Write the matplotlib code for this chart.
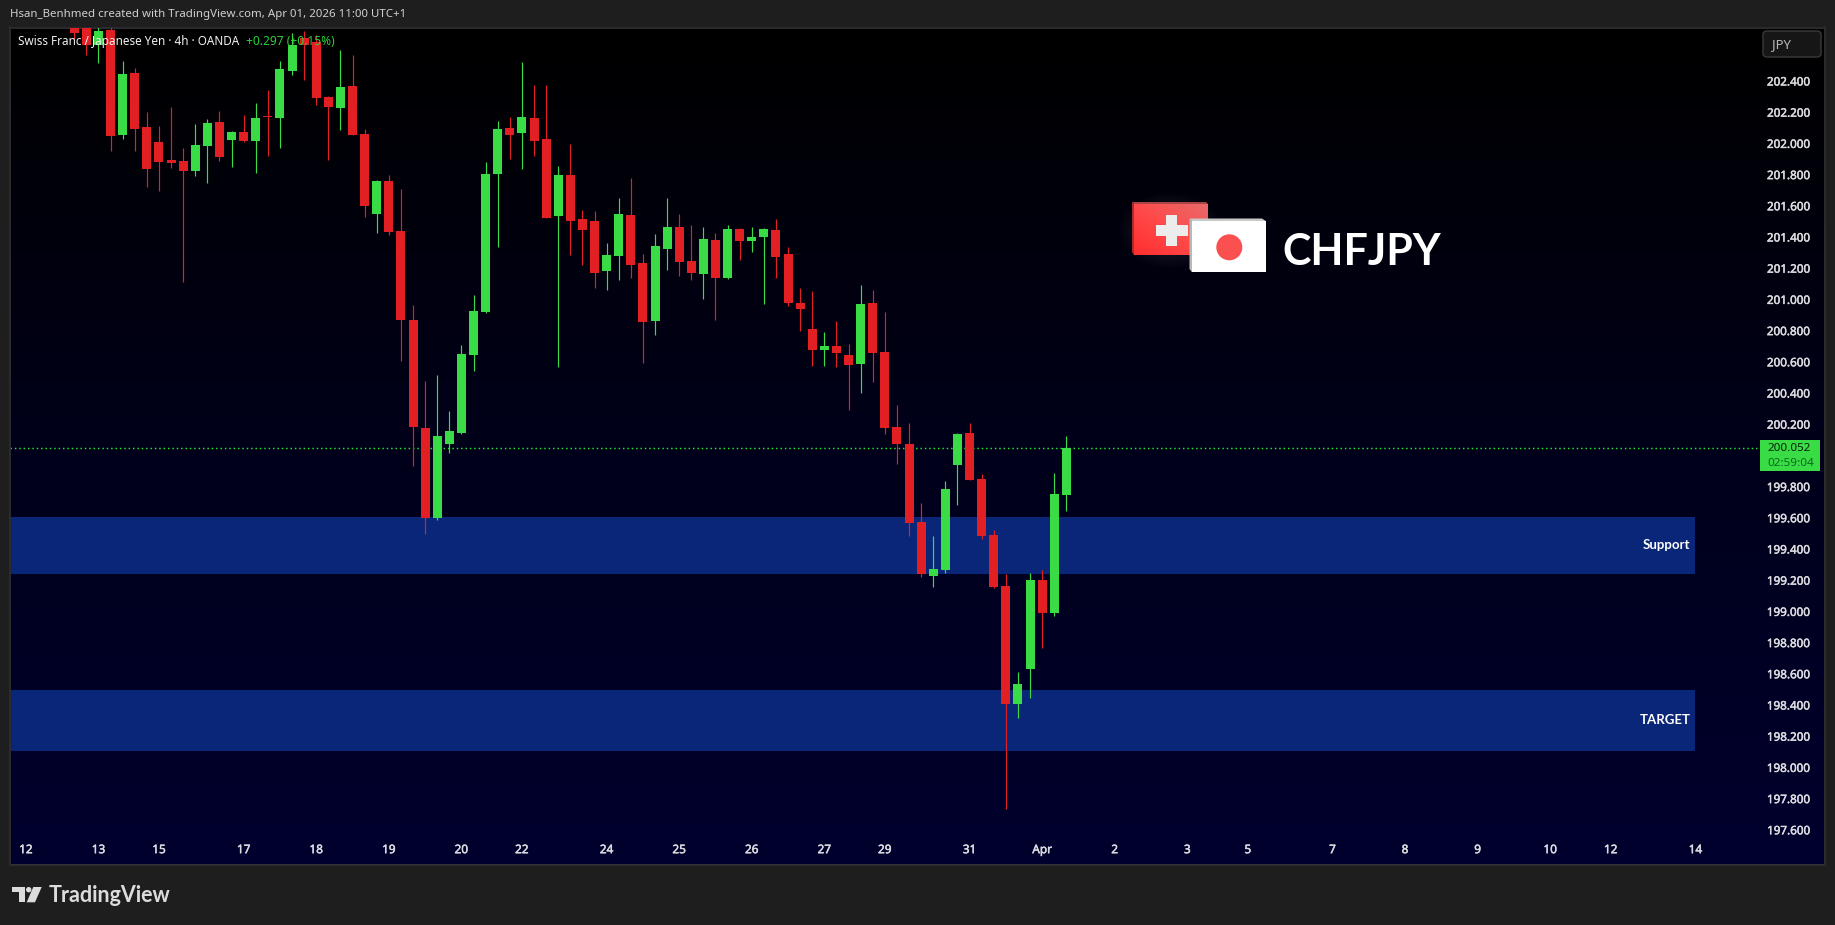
import numpy as np
import matplotlib
matplotlib.use('Agg')
import matplotlib.pyplot as plt
import matplotlib.patheffects as pe
from matplotlib.colors import LinearSegmentedColormap
from matplotlib.patches import Circle, FancyBboxPatch, Polygon, Rectangle

# candle values, 4h bars
opens = [202.85, 202.82, 202.634, 202.730, 202.059, 202.454, 202.108, 202.012, 201.896, 201.890,
         201.826, 201.986, 202.140, 202.025, 202.076, 202.018, 202.178, 202.166, 202.467, 202.678,
         202.655, 202.300, 202.230, 202.371, 202.063, 201.550, 201.762, 201.441, 200.871, 200.178,
         199.602, 200.076, 200.146, 200.646, 200.922, 201.807, 202.101, 202.069, 202.166, 202.031,
         201.537, 201.800, 201.518, 201.505, 201.185, 201.281, 201.545, 201.237, 200.865, 201.327,
         201.468, 201.250, 201.166, 201.384, 201.141, 201.455, 201.378, 201.404, 201.448, 201.295,
         200.981, 200.814, 200.679, 200.705, 200.647, 200.589, 200.981, 200.666, 200.186, 200.076,
         199.576, 199.230, 199.268, 199.941, 200.146, 199.852, 199.493, 199.166, 198.409, 198.634,
         199.204, 198.993, 199.749]
highs = [202.95, 202.95, 202.78, 202.76, 202.531, 202.484, 202.204, 202.114, 202.236, 201.973,
         202.127, 202.159, 202.210, 202.082, 202.185, 202.262, 202.345, 202.531, 202.708, 202.723,
         202.698, 202.307, 202.601, 202.569, 202.095, 201.768, 201.800, 201.710, 200.967, 200.480,
         200.518, 200.287, 200.711, 201.031, 201.884, 202.146, 202.172, 202.525, 202.377, 202.377,
         201.858, 201.999, 201.576, 201.569, 201.364, 201.653, 201.780, 201.295, 201.423, 201.654,
         201.551, 201.481, 201.468, 201.429, 201.481, 201.461, 201.468, 201.461, 201.519, 201.339,
         201.077, 201.057, 200.795, 200.865, 200.718, 201.096, 201.064, 200.923, 200.327, 200.211,
         199.698, 199.486, 199.839, 200.146, 200.211, 199.884, 199.525, 199.243, 198.614, 199.249,
         199.268, 199.890, 200.127]
lows = [202.670, 202.569, 202.520, 201.956, 202.031, 201.954, 201.723, 201.698, 201.845, 201.114,
        201.794, 201.749, 201.890, 201.851, 202.012, 201.813, 201.922, 201.973, 202.441, 202.409,
        202.249, 201.896, 202.089, 202.057, 201.531, 201.428, 201.416, 200.608, 199.935, 199.499,
        199.589, 200.018, 200.140, 200.544, 200.916, 201.339, 201.903, 201.839, 201.922, 201.525,
        200.569, 201.287, 201.223, 201.076, 201.063, 201.127, 201.141, 200.596, 200.775, 201.192,
        201.154, 201.128, 201.006, 200.872, 201.134, 201.256, 201.307, 200.974, 201.141, 200.961,
        200.801, 200.577, 200.577, 200.570, 200.295, 200.404, 200.474, 200.141, 199.948, 199.486,
        199.223, 199.159, 199.249, 199.685, 199.845, 199.467, 199.153, 197.736, 198.320, 198.448,
        198.768, 198.973, 199.646]
closes = [202.710, 202.634, 202.723, 202.052, 202.448, 202.095, 201.839, 201.884, 201.877, 201.826,
          201.993, 202.134, 201.916, 202.076, 202.018, 202.166, 202.172, 202.480, 202.634, 202.634,
          202.294, 202.236, 202.364, 202.057, 201.601, 201.762, 201.435, 200.871, 200.185, 199.602,
          200.127, 200.159, 200.653, 200.928, 201.807, 202.095, 202.057, 202.172, 202.018, 201.525,
          201.800, 201.505, 201.448, 201.172, 201.287, 201.550, 201.224, 200.859, 201.346, 201.468,
          201.243, 201.173, 201.391, 201.141, 201.455, 201.378, 201.404, 201.455, 201.275, 200.981,
          200.942, 200.679, 200.705, 200.660, 200.583, 200.974, 200.660, 200.179, 200.077, 199.570,
          199.243, 199.275, 199.787, 200.140, 199.845, 199.486, 199.159, 198.409, 198.537, 199.204,
          198.993, 199.755, 200.050]

# axis ticks, 200.000 sits under the price tag so it has no label
date_ticks = [-4, 2, 7, 14, 20, 26, 32, 37, 44, 50, 56, 62, 67, 74, 80, 86, 92, 97, 104, 110, 116, 122, 127, 134]
date_labels = ['12', '13', '15', '17', '18', '19', '20', '22', '24', '25', '26', '27', '29', '31',
               'Apr', '2', '3', '5', '7', '8', '9', '10', '12', '14']
price_ticks = [197.6, 197.8, 198.0, 198.2, 198.4, 198.6, 198.8, 199.0, 199.2, 199.4, 199.6, 199.8,
               200.2, 200.4, 200.6, 200.8, 201.0, 201.2, 201.4, 201.6, 201.8, 202.0, 202.2, 202.4]

# zones and last price
zone_names = ['Support', 'TARGET']
zone_lows = [199.243, 198.107]
zone_highs = [199.608, 198.499]
zone_end = 134
last_price = 200.052

W, H = 1835, 925
GREEN = '#39dc45'
RED = '#e22024'

plt.rcParams['font.family'] = 'Noto Sans'

fig = plt.figure(figsize=(W / 100, H / 100), dpi=100, facecolor='#1e1e1e')

# price pane, placed on the pixel
left, right, top, bottom = 10, 1825, 27.5, 864.5
ax = fig.add_axes([left / W, 1 - bottom / H, (right - left) / W, (bottom - top) / H])
xlim = ((left - 74.3) / 12.098, (right - 74.3) / 12.098)
ylim = (202.4 - (bottom - 81.5) / 156, 202.4 + (81.5 - top) / 156)

# background fades from black to navy
fade = LinearSegmentedColormap.from_list('fade', ['#000000', '#00001a', '#00002e'])
ax.imshow(np.linspace(0, 1, 256).reshape(-1, 1), cmap=fade, aspect='auto',
          extent=(0, 1, 0, 1), transform=ax.transAxes, zorder=0)

# zones
for low, high in zip(zone_lows, zone_highs):
    ax.fill_between([xlim[0], zone_end], low, high, color='#0a2678', lw=0, zorder=1)
for name, low, high in zip(zone_names, zone_lows, zone_highs):
    ax.annotate(name, (zone_end, (low + high) / 2), xytext=(-3.5, 0.5), textcoords='offset points',
                ha='right', va='center', color='white', fontsize=9.5, fontfamily='Lato',
                fontweight='bold', zorder=5)

# last price line
ax.plot([xlim[0], (1757 - 74.3) / 12.098], [last_price, last_price], color='#1cf02e', lw=1.05,
        ls=(0, (1, 2)), zorder=2)

# candles
idx = np.arange(len(opens))
colors = [GREEN if c >= o else RED for o, c in zip(opens, closes)]
ax.vlines(idx, lows, highs, colors=colors, lw=0.85, zorder=3)
ax.bar(idx, np.abs(np.array(closes) - np.array(opens)), bottom=np.minimum(opens, closes),
       width=0.744, color=colors, lw=0, zorder=4)

ax.set_xlim(xlim)
ax.set_ylim(ylim)
for spine in ax.spines.values():
    spine.set_color('#2c2c30')
    spine.set_linewidth(1.4)

ax.set_xticks(date_ticks, date_labels)
ax.set_yticks(price_ticks, ['%.3f' % p for p in price_ticks])
ax.yaxis.tick_right()
ax.tick_params(axis='x', length=0, pad=-6, colors='#dcdce0', labelsize=8.5)
ax.tick_params(axis='y', length=0, pad=-10.5, colors='#dcdce0', labelsize=8.4)
thicker = [pe.withStroke(linewidth=0.35, foreground='#dcdce0')]
for label in ax.get_yticklabels():
    label.set_ha('right')
    label.set_path_effects(thicker)
for label in ax.get_xticklabels():
    label.set_va('bottom')
    label.set_path_effects(thicker)

# overlay in pixel coordinates for everything round the chart
over = fig.add_axes([0, 0, 1, 1], zorder=5)
over.set_xlim(0, W)
over.set_ylim(H, 0)
over.set_axis_off()

over.text(9.5, 14.7, 'Hsan_Benhmed created with TradingView.com, Apr 01, 2026 11:00 UTC+1',
          color='#cfcfcf', fontsize=8.25, va='center')
over.text(17.8, 41.7, 'Swiss Franc / Japanese Yen · 4h · OANDA', color='#f0f0f0', fontsize=8.45, va='center')
over.text(245.5, 41.7, '+0.297 (+0.15%)', color='#2ad038', fontsize=8.6, va='center')

# currency button
over.add_patch(FancyBboxPatch((1763, 31), 58, 26, boxstyle='round,pad=0,rounding_size=4', fc='#161616',
                              ec='#3a3a3a', lw=1, zorder=3))
over.text(1772, 44.5, 'JPY', color='#b8b8b8', fontsize=9.5, va='center', zorder=4)

# last price tag
over.add_patch(Rectangle((1760, 440), 60, 31, fc=GREEN, lw=0, zorder=3))
over.text(1789, 448.5, '%.3f' % last_price, color='#06200a', fontsize=8.4, ha='center', va='center', zorder=4)
over.text(1791, 463, '02:59:04', color='#0d6a1c', fontsize=8.4, ha='center', va='center', zorder=4)

# flag logo, soft glow then bevelled flags
glow = np.zeros((80, 110, 4))
yy, xx = np.mgrid[0:80, 0:110]
glow[..., :3] = 1
glow[..., 3] = 0.16 * np.clip(1 - np.hypot((xx - 55) / 55, (yy - 40) / 40), 0, 1)
over.imshow(glow, extent=(1115, 1225, 270, 190), aspect='auto', zorder=2)
shade = LinearSegmentedColormap.from_list('swiss', ['#ff2e2e', '#ff4a4a', '#e86a6a'])
grad = (np.linspace(0, 1, 60).reshape(1, -1) + np.linspace(1, 0, 40).reshape(-1, 1)) / 2
over.imshow(grad, cmap=shade, extent=(1134, 1208, 255, 204), aspect='auto', zorder=3)
over.add_patch(Polygon([(1132, 202), (1206, 202), (1208, 204), (1134, 204)], fc='#a84444', lw=0, zorder=3))
over.add_patch(Polygon([(1132, 202), (1134, 204), (1134, 255), (1132, 252)], fc='#a82c2c', lw=0, zorder=3))
over.add_patch(Rectangle((1155.5, 225), 32, 11, fc='#ececec', lw=0, zorder=4))
over.add_patch(Rectangle((1166, 214.5), 11, 31, fc='#ececec', lw=0, zorder=4))
over.add_patch(Polygon([(1189.5, 218.5), (1262, 218.5), (1265.7, 221), (1192, 221)], fc='#c8c8c8', lw=0, zorder=5))
over.add_patch(Polygon([(1189.5, 218.5), (1192, 221), (1192, 272.3), (1189.5, 269)], fc='#b8b8b8', lw=0, zorder=5))
over.add_patch(Rectangle((1192, 221), 73.7, 51.3, fc='#ffffff', lw=0, zorder=5))
over.add_patch(Circle((1229.3, 247.3), 13, fc='#fb5050', lw=0, zorder=6))
over.text(1282, 265, 'CHFJPY', color='white', fontsize=31, fontfamily='Lato', fontweight='bold',
          va='baseline', zorder=6)

# TradingView mark
logo = '#dcdcdc'
over.add_patch(Polygon([(12, 887), (25.3, 887), (25.3, 902.3), (18.7, 902.3), (18.7, 892.3), (12, 892.3)],
                       fc=logo, lw=0))
over.add_patch(Circle((28.7, 889.7), 2.7, fc=logo, lw=0))
over.add_patch(Polygon([(33.3, 887), (41.7, 887), (35, 902.3), (26.7, 902.3)], fc=logo, lw=0))
over.text(49, 901.7, 'TradingView', color=logo, fontsize=15.5, fontfamily='Lato', fontweight='bold', va='baseline')

over.set_xlim(0, W)
over.set_ylim(H, 0)

fig.savefig('out.png', dpi=100, facecolor=fig.get_facecolor())
